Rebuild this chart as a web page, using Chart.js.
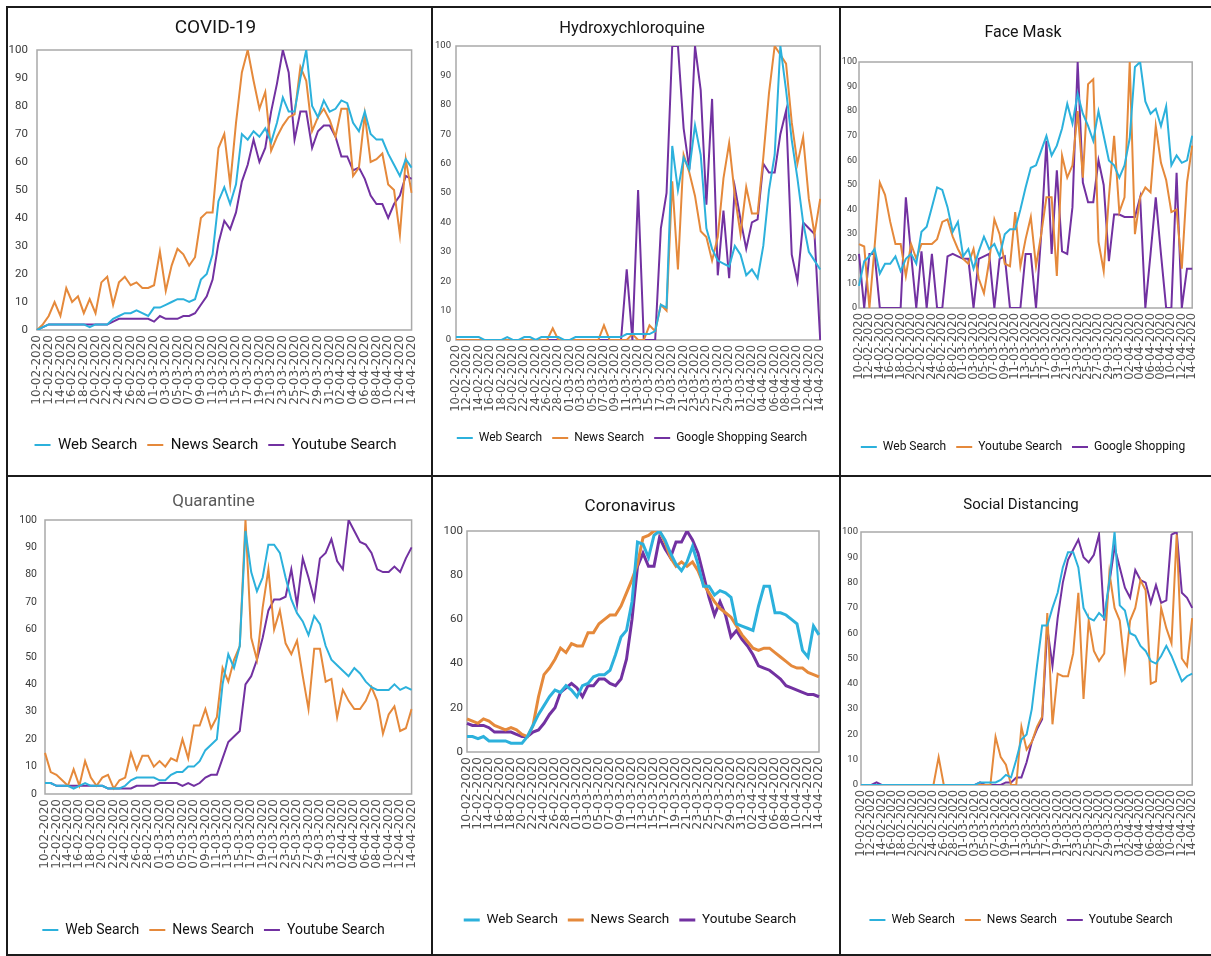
<!DOCTYPE html>
<html>
<head>
<meta charset="utf-8">
<title>Search trends</title>
<script src="https://cdn.jsdelivr.net/npm/chart.js@4.4.1/dist/chart.umd.min.js"></script>
<style>
  body { margin: 0; background: #fff; }
  #board { position: relative; width: 1211px; height: 956px; overflow: hidden; background: #fff; }
  #board canvas { position: absolute; }
  .rule { position: absolute; background: #1b1b1b; }
</style>
</head>
<body>
<div id="board">
  <canvas id="c1" width="423" height="467" style="left:8px;top:8px"></canvas>
  <canvas id="c2" width="406" height="467" style="left:433px;top:8px"></canvas>
  <canvas id="c3" width="370" height="467" style="left:841px;top:8px"></canvas>
  <canvas id="c4" width="423" height="477" style="left:8px;top:477px"></canvas>
  <canvas id="c5" width="406" height="477" style="left:433px;top:477px"></canvas>
  <canvas id="c6" width="370" height="477" style="left:841px;top:477px"></canvas>

  <div class="rule" style="left:6px;top:6px;width:1205px;height:2px"></div>
  <div class="rule" style="left:6px;top:6px;width:2px;height:950px"></div>
  <div class="rule" style="left:6px;top:954px;width:1205px;height:2px"></div>
  <div class="rule" style="left:431px;top:6px;width:2px;height:950px"></div>
  <div class="rule" style="left:839px;top:6px;width:2px;height:950px"></div>
  <div class="rule" style="left:6px;top:475px;width:1205px;height:2px"></div>
</div>
<script>
// --- data ---
const dates = [
  '10-02-2020','11-02-2020','12-02-2020','13-02-2020','14-02-2020','15-02-2020','16-02-2020','17-02-2020','18-02-2020','19-02-2020',
  '20-02-2020','21-02-2020','22-02-2020','23-02-2020','24-02-2020','25-02-2020','26-02-2020','27-02-2020','28-02-2020','29-02-2020',
  '01-03-2020','02-03-2020','03-03-2020','04-03-2020','05-03-2020','06-03-2020','07-03-2020','08-03-2020','09-03-2020','10-03-2020',
  '11-03-2020','12-03-2020','13-03-2020','14-03-2020','15-03-2020','16-03-2020','17-03-2020','18-03-2020','19-03-2020','20-03-2020',
  '21-03-2020','22-03-2020','23-03-2020','24-03-2020','25-03-2020','26-03-2020','27-03-2020','28-03-2020','29-03-2020','30-03-2020',
  '31-03-2020','01-04-2020','02-04-2020','03-04-2020','04-04-2020','05-04-2020','06-04-2020','07-04-2020','08-04-2020','09-04-2020',
  '10-04-2020','11-04-2020','12-04-2020','13-04-2020','14-04-2020'
];

// COVID-19
const covidWeb = [0,1,2,2,2,2,2,2,2,1, 2,2,2,4,5,6,6,7,6,5, 8,8,9,10,11,11,10,11,18,20,
  27,46,51,45,52,70,68,71,69,72, 67,74,83,78,78,90,100,80,76,82, 78,79,82,81,74,71,78,70,68,68, 63,59,55,61,58];
const covidNews = [0,2,5,10,5,15,10,12,6,11, 6,17,19,9,17,19,16,17,15,15, 16,28,14,23,29,27,23,26,40,42,
  42,65,70,52,74,92,100,89,79,85, 64,69,73,76,77,94,89,71,76,79, 75,69,79,79,55,58,77,60,61,63, 52,50,34,61,49];
const covidYoutube = [0,1,2,2,2,2,2,2,2,2, 2,2,2,3,4,4,4,4,4,4, 3,5,4,4,4,5,5,6,9,12,
  18,31,39,36,42,53,59,68,60,65, 78,88,100,92,68,78,78,65,71,73, 73,69,62,62,57,58,54,48,45,45, 40,45,48,55,54];

// Hydroxychloroquine
const hcqWeb = [1,1,1,1,1,0,0,0,0,1, 0,0,1,1,0,1,1,1,1,0, 0,1,1,1,1,1,1,1,1,1,
  2,2,2,2,2,3,12,11,66,51, 62,58,73,63,38,31,27,26,25,32, 29,22,24,21,32,51,63,100,85,68, 55,40,30,27,24];
const hcqNews = [0,0,0,0,0,0,0,0,0,0, 0,0,0,0,0,0,0,4,0,0, 0,0,0,0,0,0,5,0,0,0,
  0,2,0,0,5,3,12,10,54,24, 63,57,49,37,35,27,35,55,67,49, 36,52,43,43,62,84,100,97,94,74, 60,69,48,36,48];
const hcqShopping = [0,0,0,0,0,0,0,0,0,0, 0,0,0,0,0,0,0,0,0,0, 0,0,0,0,0,0,0,0,0,0,
  24,0,51,0,0,0,38,50,100,100, 72,58,100,85,46,82,22,44,21,52, 41,31,40,41,60,57,57,70,78,29, 20,40,38,36,0];

// Face Mask
const maskWeb = [9,19,21,24,14,18,18,21,15,20, 22,18,31,33,41,49,48,41,31,35, 21,24,16,23,29,24,26,21,30,32,
  32,40,49,57,58,64,70,62,66,73, 83,75,87,79,74,68,80,70,60,58, 53,58,69,98,100,84,79,81,74,82, 58,62,59,60,70];
const maskYoutube = [26,25,0,25,51,46,35,26,26,13, 26,20,26,26,26,28,35,36,29,24, 20,18,24,12,6,19,36,30,18,17,
  39,17,28,37,17,30,45,45,13,62, 53,58,80,53,91,93,27,15,45,70, 39,45,100,30,45,49,47,74,59,52, 39,40,16,51,66];
const maskShopping = [22,0,22,22,0,0,0,0,0,45, 22,0,23,0,22,0,0,21,22,21, 20,20,0,20,21,22,0,20,21,0,
  0,0,22,22,0,30,68,22,56,23, 22,41,100,51,43,43,60,50,19,38, 38,37,37,37,45,0,22,45,22,0, 0,55,0,16,16];

// Quarantine
const quarWeb = [4,4,3,3,3,2,3,4,3,3, 3,2,2,2,3,5,6,6,6,6, 5,5,7,8,8,10,10,12,16,18,
  20,40,51,46,54,96,81,74,79,91, 91,88,79,71,66,63,58,65,62,54, 49,47,45,43,46,44,41,39,38,38, 38,40,38,39,38];
const quarNews = [15,8,7,5,3,9,3,12,6,3, 6,7,2,5,6,15,9,14,14,10, 12,10,13,12,20,13,25,25,31,24,
  28,46,41,49,54,100,57,49,68,82, 60,67,55,51,56,43,31,53,53,41, 42,28,38,34,31,31,34,39,34,22, 29,32,23,24,31];
const quarYoutube = [4,4,3,3,3,3,3,3,3,3, 3,2,2,2,2,2,3,3,3,3, 4,4,4,4,3,4,3,4,6,7,
  7,13,19,21,23,40,43,49,57,67, 71,71,72,82,69,86,79,71,86,88, 93,85,82,100,96,92,91,88,82,81, 81,83,81,86,90];

// Coronavirus
const coronaWeb = [7,7,6,7,5,5,5,5,4,4, 4,7,12,17,21,25,28,27,30,28, 25,30,31,34,35,35,37,44,52,55,
  68,95,94,88,98,100,96,90,85,82, 86,93,85,75,75,71,73,72,70,58, 57,56,55,66,75,75,63,63,62,60, 58,46,43,57,53];
const coronaNews = [15,14,13,15,14,12,11,10,11,10, 8,7,12,25,35,38,42,47,45,49, 48,48,54,54,58,60,62,62,66,72,
  78,85,97,98,100,100,95,88,84,86, 84,86,82,76,72,68,65,63,61,57, 53,50,47,46,47,47,45,43,41,39, 38,38,36,35,34];
const coronaYoutube = [13,12,12,12,11,9,9,9,9,8, 7,7,9,10,13,17,20,27,29,31, 29,25,30,30,33,33,31,30,33,42,
  60,84,90,84,84,97,92,88,95,95, 100,96,90,80,70,62,68,62,52,55, 51,48,44,39,38,37,35,33,30,29, 28,27,26,26,25];

// Social Distancing
const socialWeb = [0,0,0,0,0,0,0,0,0,0, 0,0,0,0,0,0,0,0,0,0, 0,0,0,1,1,1,1,2,4,3,
  10,18,20,30,47,63,63,70,76,86, 92,92,86,70,66,65,68,66,81,100, 71,69,60,59,55,53,49,48,51,55, 51,46,41,43,44];
const socialNews = [0,0,0,0,0,0,0,0,0,0, 0,0,0,0,0,11,0,0,0,0, 0,0,0,0,0,0,19,11,8,0,
  0,23,14,17,23,27,68,24,44,43, 43,52,76,34,65,53,49,52,84,70, 65,46,65,70,81,77,40,41,70,62, 56,99,50,47,66];
const socialYoutube = [0,0,0,1,0,0,0,0,0,0, 0,0,0,0,0,0,0,0,0,0, 0,0,0,1,0,0,0,0,1,1,
  3,3,9,17,22,26,62,47,66,80, 89,93,97,90,88,91,99,65,80,94, 86,78,74,85,81,80,72,79,72,73, 99,100,76,74,70];

// --- style ---
const CYAN = '#2cb1dc';
const ORANGE = '#e5893b';
const PURPLE = '#7231a1';
const SANS = "Roboto, 'Liberation Sans', sans-serif";
const WIDE = "'DejaVu Sans', sans-serif";

// kotak abu-abu di sekeliling area plot
const framePlugin = {
    id: 'frame',
    beforeDatasetsDraw(chart) {
        const { ctx, chartArea: a } = chart;
        ctx.save();
        ctx.strokeStyle = '#a9a9a9';
        ctx.lineWidth = 1.5;
        ctx.strokeRect(a.left, a.top, a.right - a.left, a.bottom - a.top);
        ctx.restore();
    }
};

const panels = [
    { id: 'c1', title: 'COVID-19', series: [['Web Search', covidWeb, CYAN], ['News Search', covidNews, ORANGE], ['Youtube Search', covidYoutube, PURPLE]],
      g: { left: 29, right: 415, top: 42, bottom: 322, titleY: 20, legendY: 437, titleSize: 19, legendSize: 15, ySize: 11.5, yPad: 9, xSize: 12, step: 10, lw: 2 } },
    { id: 'c2', title: 'Hydroxychloroquine', series: [['Web Search', hcqWeb, CYAN], ['News Search', hcqNews, ORANGE], ['Google Shopping Search', hcqShopping, PURPLE]],
      g: { left: 23, right: 398, top: 38, bottom: 332, titleY: 21, legendY: 430, titleSize: 16.5, legendSize: 12, ySize: 9.5, yPad: 5, xSize: 11.5, step: 10, lw: 2 } },
    { id: 'c3', title: 'Face Mask', series: [['Web Search', maskWeb, CYAN], ['Youtube Search', maskYoutube, ORANGE], ['Google Shopping', maskShopping, PURPLE]],
      g: { left: 18, right: 364, top: 54, bottom: 300, titleY: 25, legendY: 439, titleSize: 16, legendSize: 12, ySize: 9, yPad: 2, xSize: 11.5, step: 10, lw: 2 } },
    { id: 'c4', title: 'Quarantine', titleColor: '#5a5a5a', series: [['Web Search', quarWeb, CYAN], ['News Search', quarNews, ORANGE], ['Youtube Search', quarYoutube, PURPLE]],
      g: { left: 37, right: 411, top: 43, bottom: 317, titleY: 25, legendY: 453, titleSize: 17, legendSize: 14, ySize: 10.5, yPad: 8, xSize: 12, step: 10, lw: 2 } },
    { id: 'c5', title: 'Coronavirus', series: [['Web Search', coronaWeb, CYAN], ['News Search', coronaNews, ORANGE], ['Youtube Search', coronaYoutube, PURPLE]],
      g: { left: 34, right: 394, top: 54, bottom: 275, titleY: 30, legendY: 443, titleSize: 17, legendSize: 13.5, ySize: 11.5, yPad: 4, xSize: 12.5, step: 20, lw: 3 } },
    { id: 'c6', title: 'Social Distancing', series: [['Web Search', socialWeb, CYAN], ['News Search', socialNews, ORANGE], ['Youtube Search', socialYoutube, PURPLE]],
      g: { left: 20, right: 360, top: 55, bottom: 308, titleY: 28, legendY: 443, titleSize: 15, legendSize: 12, ySize: 9.5, yPad: 3, xSize: 11.5, step: 10, lw: 2 } }
];

function makePanel(p) {
    const canvas = document.getElementById(p.id);
    const g = p.g;
    const H = canvas.height;

    // tinggi judul & legenda dihitung supaya area plot jatuh di tempat yang sama
    const titleLine = g.titleSize * 1.2;
    const titleTop = g.titleY - titleLine / 2;
    const titleBottom = g.top - g.titleY - titleLine / 2;
    const legendPad = 10;
    const axisHeight = g.legendY - g.bottom - legendPad - g.legendSize / 2;
    const legendHeight = g.legendSize + legendPad + 10;
    const bottomPad = Math.max(0, H - g.bottom - axisHeight - legendHeight);

    new Chart(canvas, {
        type: 'line',
        data: {
            labels: dates,
            datasets: p.series.map(([label, values, color]) => ({
                label: label,
                data: values,
                borderColor: color,
                backgroundColor: color,
                borderWidth: g.lw,
                pointRadius: 0,
                pointHoverRadius: 0,
                tension: 0,
                fill: false
            }))
        },
        options: {
            responsive: false,
            animation: false,
            layout: { padding: { left: 0, right: canvas.width - g.right, top: 0, bottom: bottomPad } },
            plugins: {
                title: {
                    display: true,
                    text: p.title,
                    color: p.titleColor || '#151515',
                    font: { family: SANS, size: g.titleSize, weight: 'normal' },
                    padding: { top: titleTop, bottom: titleBottom }
                },
                legend: {
                    position: 'bottom',
                    labels: {
                        usePointStyle: true,
                        pointStyle: 'line',
                        pointStyleWidth: 16,
                        padding: legendPad,
                        color: '#111',
                        font: { family: SANS, size: g.legendSize }
                    }
                },
                tooltip: { enabled: false }
            },
            scales: {
                x: {
                    grid: { display: false, drawTicks: false, tickLength: 0 },
                    border: { display: false },
                    ticks: {
                        autoSkip: false,
                        minRotation: 90,
                        maxRotation: 90,
                        padding: 5,
                        color: '#505050',
                        font: { family: WIDE, size: g.xSize },
                        callback: function (value, index) {
                            return index % 2 === 0 ? this.getLabelForValue(value) : '';
                        }
                    },
                    afterFit: (scale) => { scale.height = axisHeight; }
                },
                y: {
                    min: 0,
                    max: 100,
                    grid: { display: false, drawTicks: false, tickLength: 0 },
                    border: { display: false },
                    ticks: {
                        stepSize: g.step,
                        padding: g.yPad,
                        color: '#3a3a3a',
                        font: { family: SANS, size: g.ySize }
                    },
                    afterFit: (scale) => { scale.width = g.left; }
                }
            }
        },
        plugins: [framePlugin]
    });
}

panels.forEach(makePanel);
</script>
</body>
</html>
